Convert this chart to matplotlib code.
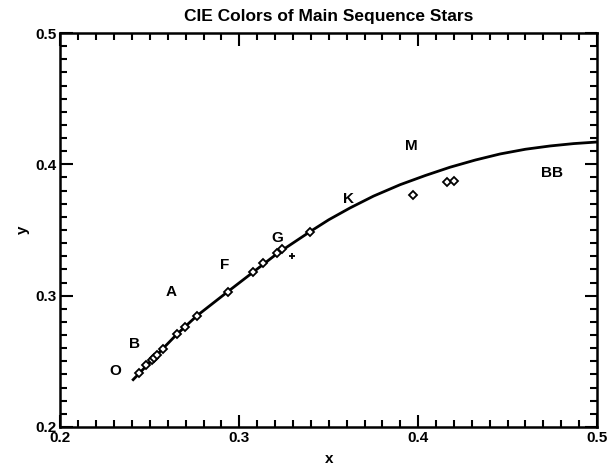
import matplotlib
matplotlib.use("Agg")
import matplotlib.pyplot as plt
from matplotlib.ticker import MultipleLocator

# Main-sequence star CIE chromaticities (diamonds)
star_x = [0.2441, 0.2477, 0.2510, 0.2525, 0.2541, 0.2572, 0.2650, 0.2696, 0.2762,
          0.2935, 0.3078, 0.3134, 0.3213, 0.3237, 0.3395, 0.3973, 0.4160, 0.4201]
star_y = [0.2409, 0.2472, 0.2510, 0.2528, 0.2548, 0.2596, 0.2708, 0.2759, 0.2845,
          0.3026, 0.3183, 0.3247, 0.3327, 0.3353, 0.3487, 0.3767, 0.3868, 0.3876]

# Sun / white point (plus sign)
sun_x = [0.3296]
sun_y = [0.3302]

# Blackbody locus
bb_x = [0.2401, 0.2441, 0.2510, 0.2572, 0.2650, 0.2762, 0.2935, 0.3078, 0.3213,
        0.3395, 0.3500, 0.3619, 0.3750, 0.3899, 0.4040, 0.4178, 0.4320, 0.4458,
        0.4600, 0.4738, 0.4870, 0.5000]
bb_y = [0.2353, 0.2409, 0.2508, 0.2596, 0.2705, 0.2846, 0.3030, 0.3180, 0.3322,
        0.3487, 0.3578, 0.3668, 0.3758, 0.3845, 0.3915, 0.3978, 0.4033, 0.4079,
        0.4115, 0.4140, 0.4158, 0.4170]

# Spectral class labels
class_labels = ["O", "B", "A", "F", "G", "K", "M", "BB"]
class_x = [0.2306, 0.2412, 0.2617, 0.2915, 0.3215, 0.3610, 0.3960, 0.4750]
class_y = [0.2430, 0.2631, 0.3030, 0.3235, 0.3440, 0.3737, 0.4140, 0.3935]

plt.rcParams['font.family'] = ['Liberation Sans', 'DejaVu Sans']

fig = plt.figure(figsize=(6.16, 4.69), dpi=100)
ax = fig.add_axes([0.0982, 0.0896, 0.8710, 0.8400])

ax.plot(bb_x, bb_y, color='black', lw=2.0, solid_capstyle='butt',
        solid_joinstyle='round')
ax.plot(star_x, star_y, linestyle='none', marker='D', markersize=4.2,
        markerfacecolor='white', markeredgecolor='black', markeredgewidth=1.3)
ax.plot(sun_x, sun_y, linestyle='none', marker='+', markersize=5,
        color='black', markeredgewidth=1.3)

for lab, lx, ly in zip(class_labels, class_x, class_y):
    ax.text(lx, ly, lab, ha='center', va='center', fontsize=11,
            fontweight='bold')

ax.set_xlim(0.2, 0.5)
ax.set_ylim(0.2, 0.5)
ax.xaxis.set_major_locator(MultipleLocator(0.1))
ax.xaxis.set_minor_locator(MultipleLocator(0.01))
ax.yaxis.set_major_locator(MultipleLocator(0.1))
ax.yaxis.set_minor_locator(MultipleLocator(0.01))
ax.xaxis.set_major_formatter(plt.FuncFormatter(lambda v, p: f"{v:.1f}"))
ax.yaxis.set_major_formatter(plt.FuncFormatter(lambda v, p: f"{v:.1f}"))

ax.tick_params(which='both', direction='in', top=True, right=True, width=1.5,
               labelsize=11)
ax.tick_params(which='major', length=9)
ax.tick_params(which='minor', length=5)
ax.tick_params(axis='x', pad=3)
ax.tick_params(axis='y', pad=3)
for lbl in ax.get_xticklabels() + ax.get_yticklabels():
    lbl.set_fontweight('bold')
for s in ax.spines.values():
    s.set_linewidth(1.8)

ax.set_xlabel('x', fontsize=11, fontweight='bold', labelpad=5)
ax.set_ylabel('y', fontsize=11, fontweight='bold', labelpad=4)
ax.set_title('CIE Colors of Main Sequence Stars', fontsize=12.5, fontweight='bold', pad=9)

fig.savefig('out.png', dpi=100)
